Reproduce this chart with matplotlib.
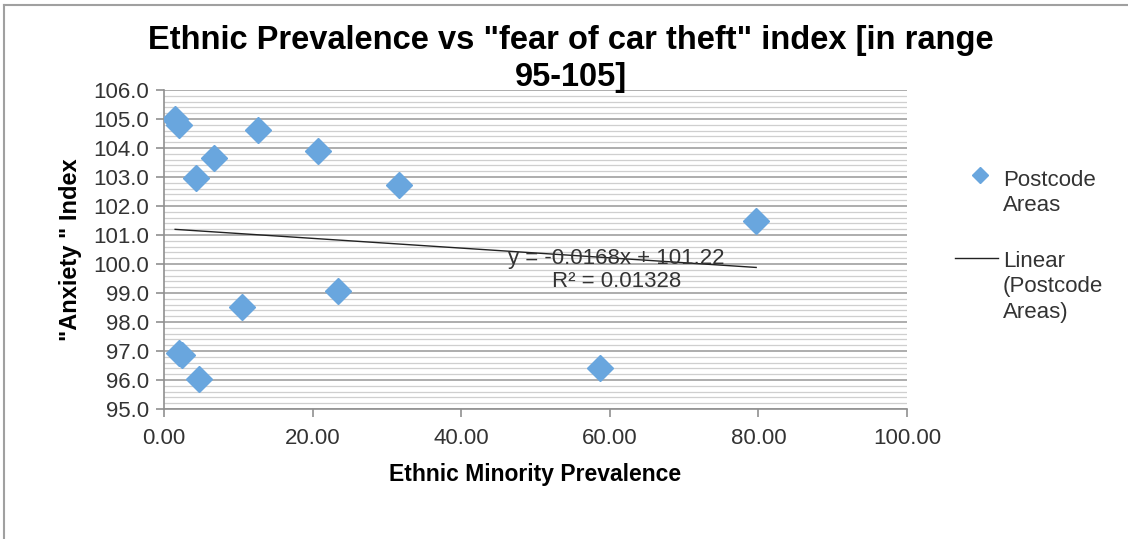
import matplotlib
matplotlib.use("Agg")
import matplotlib.pyplot as plt
from matplotlib.lines import Line2D
from matplotlib.ticker import MultipleLocator, FormatStrFormatter
import numpy as np

plt.rcParams['font.family'] = ['Liberation Sans', 'DejaVu Sans']

# Data
prevalence = [1.5, 2.0, 12.6, 20.7, 6.7, 4.3, 31.6, 79.7, 23.4, 10.5, 2.0, 2.4, 4.7, 58.7]
anxiety = [105.0, 104.8, 104.62, 103.9, 103.66, 102.97, 102.72, 101.48, 99.07, 98.52, 96.92, 96.85, 96.03, 96.41]
trend_slope = -0.0168
trend_intercept = 101.22
trend_label = "y = -0.0168x + 101.22\nR² = 0.01328"
x_ticks = [0, 20, 40, 60, 80, 100]
y_ticks = [95, 96, 97, 98, 99, 100, 101, 102, 103, 104, 105, 106]
legend_labels = ['Postcode\nAreas', 'Linear\n(Postcode\nAreas)']

W, H = 1128, 539
fig = plt.figure(figsize=(W/100, H/100), dpi=100)
ax = fig.add_axes([164/W, 1-409/H, (907-164)/W, (409-90)/H])

marker_color = '#69A6DE'
ax.plot(prevalence, anxiety, linestyle='none', marker='D', markersize=13,
        color=marker_color, markeredgecolor=marker_color, zorder=3)

xs = np.array([min(prevalence), max(prevalence)])
ax.plot(xs, trend_slope*xs + trend_intercept, color='#222222', lw=1.0, zorder=4)
ax.text(60.9, 99.8, trend_label, ha='center', va='center', fontsize=16,
        color='#333333', linespacing=1.1, zorder=5)

ax.set_xlim(0, 100)
ax.set_ylim(95, 106)
ax.set_xticks(x_ticks)
ax.set_yticks(y_ticks)
ax.xaxis.set_major_formatter(FormatStrFormatter('%.2f'))
ax.yaxis.set_major_formatter(FormatStrFormatter('%.1f'))
ax.yaxis.set_minor_locator(MultipleLocator(0.2))
ax.grid(axis='y', which='major', color='#A0A0A0', lw=1.2, zorder=0)
ax.grid(axis='y', which='minor', color='#CFCFCF', lw=0.9, zorder=0)
ax.tick_params(axis='both', which='major', labelsize=16, color='#909090',
               length=6, width=1.2, labelcolor='#333333')
ax.tick_params(axis='x', which='major', pad=8)
ax.tick_params(axis='y', which='major', pad=5)
ax.tick_params(axis='y', which='minor', length=0)
for s in ['top', 'right']:
    ax.spines[s].set_visible(False)
for s in ['left', 'bottom']:
    ax.spines[s].set_color('#909090')
    ax.spines[s].set_linewidth(1.2)

ax.set_xlabel('Ethnic Minority Prevalence', fontsize=16.5, fontweight='bold', labelpad=10)
ax.set_ylabel('"Anxiety " Index', fontsize=17, fontweight='bold', labelpad=8)

fig.text(0.506, 1-59/H, 'Ethnic Prevalence vs "fear of car theft" index [in range\n95-105]',
         ha='center', va='center', fontsize=23.5, fontweight='bold', linespacing=1.25)

# Legend (drawn manually to mimic the original layout)
fig.add_artist(Line2D([980/W], [1-175/H], linestyle='none', marker='D', markersize=8,
                      color=marker_color, transform=fig.transFigure))
fig.text(1003/W, 1-170/H, legend_labels[0], ha='left', va='top', fontsize=16,
         color='#333333', linespacing=1.28)
fig.add_artist(Line2D([955/W, 998/W], [1-258/H, 1-258/H], color='#222222', lw=1.0,
                      transform=fig.transFigure))
fig.text(1003/W, 1-251/H, legend_labels[1], ha='left', va='top', fontsize=16,
         color='#333333', linespacing=1.28)

# Figure border (top and left)
fig.add_artist(Line2D([4/W, 1], [1-5/H, 1-5/H], color='#A0A0A0', lw=1.5, transform=fig.transFigure))
fig.add_artist(Line2D([4/W, 4/W], [0, 1-5/H], color='#A0A0A0', lw=1.5, transform=fig.transFigure))

fig.savefig('out.png', dpi=100)
